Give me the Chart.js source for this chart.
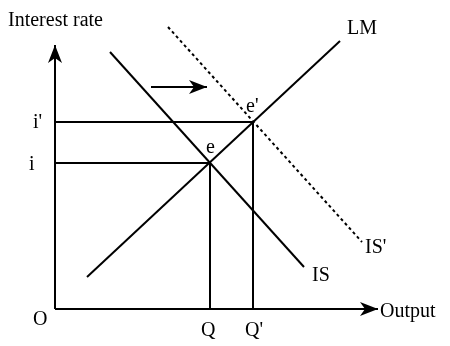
<!DOCTYPE html>
<html>
<head>
<meta charset="utf-8">
<script src="https://cdn.jsdelivr.net/npm/chart.js@4.4.1/dist/chart.umd.min.js"></script>
<style>
    html, body { margin: 0; padding: 0; background: #fff; }
    #wrap { width: 450px; height: 346px; }
</style>
</head>
<body>
<div id="wrap"><canvas id="islm"></canvas></div>
<script>
// diagram units: x = output, y = interest rate (origin at O)
const axisY = [{ x: 0, y: 0 }, { x: 0, y: 264 }];
const axisX = [{ x: 0, y: 0 }, { x: 323, y: 0 }];
const lmCurve = [{ x: 32, y: 32 }, { x: 285, y: 268 }];
const isCurve = [{ x: 55, y: 257 }, { x: 249, y: 42 }];
const isShifted = [{ x: 113, y: 282 }, { x: 307, y: 67 }];
const shiftArrow = [{ x: 96, y: 222 }, { x: 152, y: 222 }];

const equilibria = [{ x: 155, y: 146 }, { x: 198, y: 187 }];
const yTickLabels = ['i', "i'"];
const xTickLabels = ['Q', "Q'"];

// text labels: [text, x, y] (left edge, baseline)
const labels = [
    ['Interest rate', -47, 283],
    ['LM', 292, 275],
    ['e', 151, 156],
    ["e'", 191, 197],
    ['IS', 257, 28],
    ["IS'", 310, 56],
    ['Output', 325, -8],
    ['O', -22, -16],
    [yTickLabels[0], -26, 139],
    [yTickLabels[1], -22, 181],
    [xTickLabels[0], 146, -27],
    [xTickLabels[1], 190, -27]
];

const guideLines = [];
equilibria.forEach(p => {
    guideLines.push([{ x: 0, y: p.y }, { x: p.x, y: p.y }]);
    guideLines.push([{ x: p.x, y: 0 }, { x: p.x, y: p.y }]);
});

function lineSet(data, extra) {
    return Object.assign({
        data: data,
        borderColor: '#000',
        borderWidth: 2,
        pointRadius: 0,
        showLine: true,
        fill: false,
        clip: false
    }, extra || {});
}

const datasets = [
    lineSet(axisY, { arrow: true }),
    lineSet(axisX, { arrow: true }),
    lineSet(lmCurve),
    lineSet(isCurve),
    lineSet(isShifted, { borderDash: [3, 3] }),
    lineSet(shiftArrow, { arrow: true })
];
guideLines.forEach(g => datasets.push(lineSet(g)));

const overlay = {
    id: 'overlay',
    afterDatasetsDraw(chart) {
        const { ctx, scales: { x, y } } = chart;
        ctx.save();
        ctx.fillStyle = '#000';

        chart.data.datasets.forEach(ds => {
            if (!ds.arrow) return;
            const a = ds.data[ds.data.length - 2];
            const b = ds.data[ds.data.length - 1];
            const x1 = x.getPixelForValue(a.x), y1 = y.getPixelForValue(a.y);
            const x2 = x.getPixelForValue(b.x), y2 = y.getPixelForValue(b.y);
            const ang = Math.atan2(y2 - y1, x2 - x1);
            ctx.save();
            ctx.translate(x2, y2);
            ctx.rotate(ang);
            ctx.beginPath();
            ctx.moveTo(0, 0);
            ctx.lineTo(-18, -7);
            ctx.lineTo(-13, 0);
            ctx.lineTo(-18, 7);
            ctx.closePath();
            ctx.fill();
            ctx.restore();
        });

        ctx.font = '20px "Liberation Serif", "Times New Roman", serif';
        ctx.textAlign = 'left';
        ctx.textBaseline = 'alphabetic';
        labels.forEach(([t, lx, ly]) => {
            ctx.fillText(t, x.getPixelForValue(lx), y.getPixelForValue(ly));
        });
        ctx.restore();
    }
};

new Chart(document.getElementById('islm'), {
    type: 'scatter',
    data: { datasets: datasets },
    options: {
        responsive: true,
        maintainAspectRatio: false,
        animation: false,
        events: [],
        layout: { padding: { left: 55, right: 0, top: 0, bottom: 37 } },
        plugins: {
            legend: { display: false },
            tooltip: { enabled: false }
        },
        scales: {
            x: { type: 'linear', min: 0, max: 395, display: false },
            y: { type: 'linear', min: 0, max: 309, display: false }
        }
    },
    plugins: [overlay]
});
</script>
</body>
</html>
